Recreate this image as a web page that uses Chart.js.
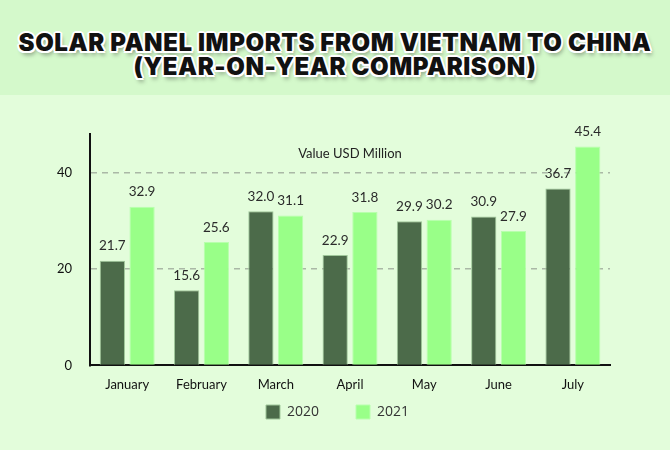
<!DOCTYPE html>
<html><head><meta charset="utf-8">
<script src="https://cdn.jsdelivr.net/npm/chart.js@4/dist/chart.umd.min.js"></script>
<style>
html,body{margin:0;padding:0;}
body{width:670px;height:450px;position:relative;overflow:hidden;
background:linear-gradient(#d4f9cb 0,#d4f9cb 95px,#e3fddb 95px,#e3fddb 100%);}
#title{position:absolute;left:0;top:31px;width:670px;text-align:center;
font-family:"Inter","DejaVu Sans",sans-serif;font-weight:900;font-size:24px;line-height:24px;
color:#111;letter-spacing:0.6px;
text-shadow:2px 0 0 #fff,-2px 0 0 #fff,0 2px 0 #fff,0 -2px 0 #fff,1.5px 1.5px 0 #fff,-1.5px -1.5px 0 #fff,1.5px -1.5px 0 #fff,-1.5px 1.5px 0 #fff,2px 4px 4px rgba(0,0,0,0.35);}
#wrap{position:absolute;left:0;top:0;width:670px;height:450px;}
</style></head>
<body>
<div id="title">SOLAR PANEL IMPORTS FROM VIETNAM TO CHINA<br>(YEAR-ON-YEAR COMPARISON)</div>
<div id="wrap"><canvas id="c" width="670" height="450"></canvas></div>
<script>
const categories = ["January","February","March","April","May","June","July"];
const values2020 = [21.7,15.6,32.0,22.9,29.9,30.9,36.7];
const values2021 = [32.9,25.6,31.1,31.8,30.2,27.9,45.4];
const seriesNames = ["2020","2021"];
const yTicks = [0,20,40];
const unitLabel = "Value USD Million";
const LEGEND_GAP = 37;
const LEGEND_SHIFT_X = 13;

const labelPlugin = {
  id:'vals',
  afterDatasetsDraw(chart){
    const ctx = chart.ctx;
    ctx.save();
    ctx.font = '13.5px Lato, sans-serif';
    ctx.fillStyle = '#2b2b2b';
    ctx.textAlign = 'center';
    ctx.textBaseline = 'bottom';
    chart.data.datasets.forEach((ds,i)=>{
      const meta = chart.getDatasetMeta(i);
      meta.data.forEach((bar,j)=>{
        ctx.fillText(ds.data[j].toFixed(1), bar.x, bar.y - 8);
      });
    });
    const a = chart.chartArea;
    ctx.font = '13px Lato, sans-serif';
    ctx.fillStyle = '#222';
    ctx.textBaseline = 'middle';
    ctx.fillText(unitLabel, (a.left+a.right)/2, a.top + 20);
    ctx.restore();
  }
};

// legend items spaced widely horizontally without extra vertical room
const legendGapPlugin = {
  id:'legendGap',
  beforeLayout(chart){
    const lg = chart.legend;
    if (lg && !lg.__wrapped){
      const f = lg.fit.bind(lg);
      lg.fit = function(){ f(); this.height -= LEGEND_GAP; };
      lg.__wrapped = true;
    }
  },
  afterLayout(chart){
    const lg = chart.legend;
    if (lg){
      lg.top -= LEGEND_GAP; lg.height += LEGEND_GAP;
      lg.left += LEGEND_SHIFT_X; lg.right += LEGEND_SHIFT_X;
    }
  }
};

new Chart(document.getElementById('c'), {
  type:'bar',
  data:{
    labels:categories,
    datasets:[
      {label:seriesNames[0],data:values2020,backgroundColor:'#4c6b4a',borderColor:'#9fc79a',borderWidth:1},
      {label:seriesNames[1],data:values2021,backgroundColor:'#99ff88',borderColor:'#b8ffad',borderWidth:1}
    ]
  },
  options:{
    responsive:false,animation:false,
    layout:{padding:{top:134,left:39,right:60,bottom:21}},
    datasets:{bar:{categoryPercentage:0.8,barPercentage:0.85}},
    scales:{
      x:{grid:{display:false,drawTicks:false},border:{color:'#111',width:2},
         ticks:{color:'#111',font:{family:'Lato',size:13},padding:12}},
      y:{min:0,max:48,afterBuildTicks:(ax)=>{ax.ticks=yTicks.map(v=>({value:v}));},
         grid:{color:(c)=>c.tick.value===0?'rgba(0,0,0,0)':'#aab8a6',lineWidth:1.5,drawTicks:false},
         border:{color:'#111',width:2,dash:[6,5]},
         ticks:{color:'#111',font:{family:'Lato',size:13},padding:18}}
    },
    plugins:{
      legend:{position:'bottom',labels:{boxWidth:14,boxHeight:14,padding:LEGEND_GAP,color:'#333',font:{family:'Open Sans',size:14}}},
      tooltip:{enabled:false},
      title:{display:false}
    }
  },
  plugins:[labelPlugin, legendGapPlugin]
});
</script>
</body></html>
